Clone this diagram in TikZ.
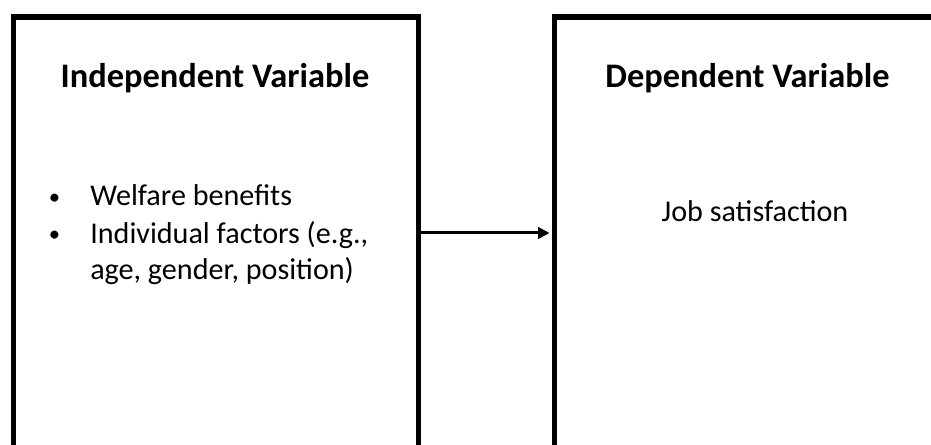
\documentclass[tikz,border=0pt]{standalone}
\usepackage{fontspec}
\setmainfont{Carlito}
\usetikzlibrary{arrows.meta}
\newcommand{\smallbul}{\makebox[33pt][l]{\hspace*{2pt}\raisebox{1pt}{\fontsize{17}{17}\selectfont\textbullet}}}
\begin{document}
\begin{tikzpicture}[x=0.75pt,y=-0.75pt,
  boxframe/.style={draw=black, line width=4.1pt, anchor=north west, inner sep=0pt, minimum width=#1*0.75pt, minimum height=342pt},
  title/.style={anchor=base, inner sep=0pt, font=\fontsize{25.8}{30}\selectfont\bfseries},
  body/.style={inner sep=0pt, font=\fontsize{22.6}{27.75}\selectfont},
  link/.style={draw=black, line width=2.25pt, -{Triangle[length=8.5pt,width=8.5pt]}}]
\useasboundingbox (0,0) rectangle (931,445);
\clip (0,0) rectangle (931,445);
\node[boxframe=404.5] (lbox) at (11,14.5) {};
\node[boxframe=400] (rbox) at (551.5,14.5) {};
\node[title] (ltitle) at (215,88) {Independent Variable};
\node[title] (rtitle) at (747.5,88) {Dependent Variable};
\node[body, anchor=base west, align=left] (list) at (46,280)
  {\smallbul Welfare benefits\\
   \smallbul Individual factors (e.g.,\\
   \hspace*{33pt}age, gender, position)};
\node[body, anchor=base] (job) at (755,222) {Job satisfaction};
\coordinate (arr) at (480,233);
\draw[link, shorten >=1.5pt] (lbox.east |- arr) -- (rbox.west |- arr);
\end{tikzpicture}
\end{document}
